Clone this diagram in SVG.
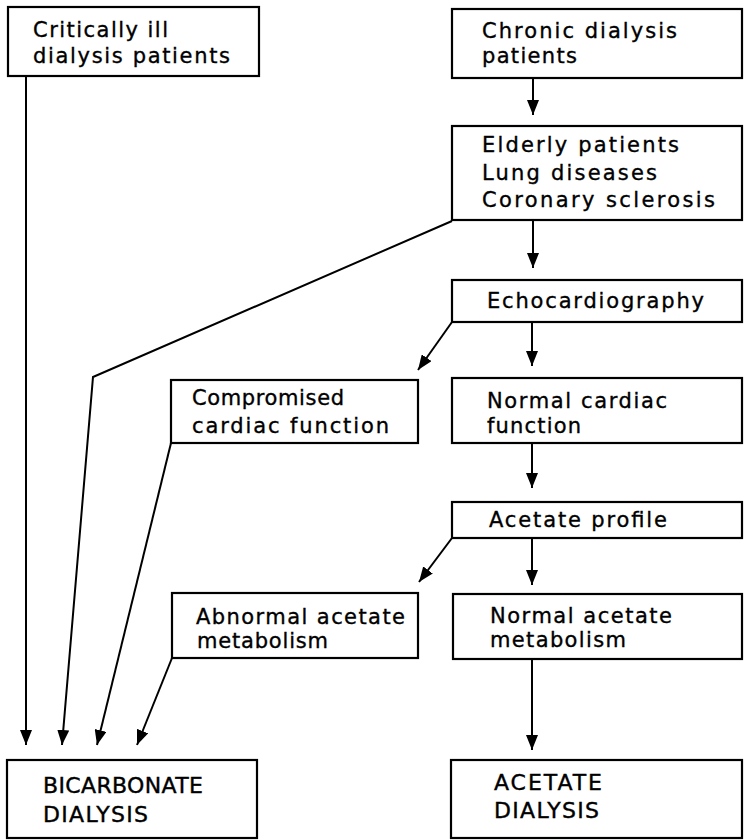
<svg xmlns="http://www.w3.org/2000/svg" width="745" height="840" viewBox="0 0 745 840">
<defs>
<marker id="ah" markerUnits="userSpaceOnUse" markerWidth="15" markerHeight="12" refX="15" refY="6" orient="auto" viewBox="0 0 15 12">
<path d="M0,0 L15,6 L0,12 z" fill="#000"/>
</marker>
<style>
.box{fill:#fff;stroke:#000;stroke-width:2.2}
.t{font-family:"DejaVu Sans",sans-serif;font-size:21px;fill:#000;stroke:#000;stroke-width:0.35}
.T{font-family:"DejaVu Sans",sans-serif;font-size:22px;fill:#000;stroke:#000;stroke-width:0.4}
.c{fill:none;stroke:#000;stroke-width:2;marker-end:url(#ah)}
</style>
</defs>
<rect width="745" height="840" fill="#fff"/>
<g id="connectors">
<line class="c" x1="533" y1="78" x2="533" y2="115"/>
<line class="c" x1="533" y1="220" x2="533" y2="268"/>
<line class="c" x1="532" y1="322" x2="532" y2="366"/>
<line class="c" x1="452" y1="322" x2="418" y2="370"/>
<line class="c" x1="532" y1="443" x2="532" y2="488"/>
<line class="c" x1="532" y1="538" x2="532" y2="585"/>
<line class="c" x1="452" y1="538" x2="419" y2="582"/>
<line class="c" x1="532" y1="659" x2="532" y2="750"/>
<line class="c" x1="26" y1="76" x2="26" y2="745"/>
<polyline class="c" points="452,221 93,377 62,745"/>
<line class="c" x1="171" y1="443" x2="97" y2="745"/>
<line class="c" x1="172" y1="658" x2="137" y2="745"/>
</g>
<g id="critically-ill">
<rect class="box" x="8" y="7" width="251" height="69"/>
<text class="t" x="33" y="37" textLength="135" lengthAdjust="spacing">Critically ill</text>
<text class="t" x="33" y="63" textLength="197" lengthAdjust="spacing">dialysis patients</text>
</g>
<g id="chronic">
<rect class="box" x="452" y="9" width="290" height="69"/>
<text class="t" x="482" y="38" textLength="195" lengthAdjust="spacing">Chronic dialysis</text>
<text class="t" x="482" y="63" textLength="95" lengthAdjust="spacing">patients</text>
</g>
<g id="risk">
<rect class="box" x="452" y="126" width="290" height="94"/>
<text class="t" x="482" y="152" textLength="197" lengthAdjust="spacing">Elderly patients</text>
<text class="t" x="482" y="180" textLength="175" lengthAdjust="spacing">Lung diseases</text>
<text class="t" x="482" y="207" textLength="233" lengthAdjust="spacing">Coronary sclerosis</text>
</g>
<g id="echo">
<rect class="box" x="452" y="280" width="290" height="42"/>
<text class="t" x="487" y="308" textLength="217" lengthAdjust="spacing">Echocardiography</text>
</g>
<g id="compromised">
<rect class="box" x="171" y="380" width="247" height="63"/>
<text class="t" x="192" y="405" textLength="152" lengthAdjust="spacing">Compromised</text>
<text class="t" x="192" y="433" textLength="197" lengthAdjust="spacing">cardiac function</text>
</g>
<g id="normal-cardiac">
<rect class="box" x="452" y="378" width="290" height="65"/>
<text class="t" x="487" y="408" textLength="180" lengthAdjust="spacing">Normal cardiac</text>
<text class="t" x="487" y="433" textLength="94" lengthAdjust="spacing">function</text>
</g>
<g id="acetate-profile">
<rect class="box" x="452" y="502" width="290" height="36"/>
<text class="t" x="489" y="527" textLength="178" lengthAdjust="spacing">Acetate profile</text>
</g>
<g id="abnormal">
<rect class="box" x="172" y="593" width="246" height="65"/>
<text class="t" x="196" y="624" textLength="209" lengthAdjust="spacing">Abnormal acetate</text>
<text class="t" x="197" y="648" textLength="131" lengthAdjust="spacing">metabolism</text>
</g>
<g id="normal-acetate">
<rect class="box" x="453" y="594" width="289" height="65"/>
<text class="t" x="490" y="623" textLength="182" lengthAdjust="spacing">Normal acetate</text>
<text class="t" x="490" y="647" textLength="136" lengthAdjust="spacing">metabolism</text>
</g>
<g id="bicarbonate">
<rect class="box" x="7" y="760" width="250" height="78"/>
<text class="T" x="43" y="793" textLength="160" lengthAdjust="spacing">BICARBONATE</text>
<text class="T" x="43" y="822" textLength="105" lengthAdjust="spacing">DIALYSIS</text>
</g>
<g id="acetate-dialysis">
<rect class="box" x="451" y="760" width="291" height="78"/>
<text class="T" x="494" y="790" textLength="108" lengthAdjust="spacing">ACETATE</text>
<text class="T" x="494" y="818" textLength="105" lengthAdjust="spacing">DIALYSIS</text>
</g>
</svg>
